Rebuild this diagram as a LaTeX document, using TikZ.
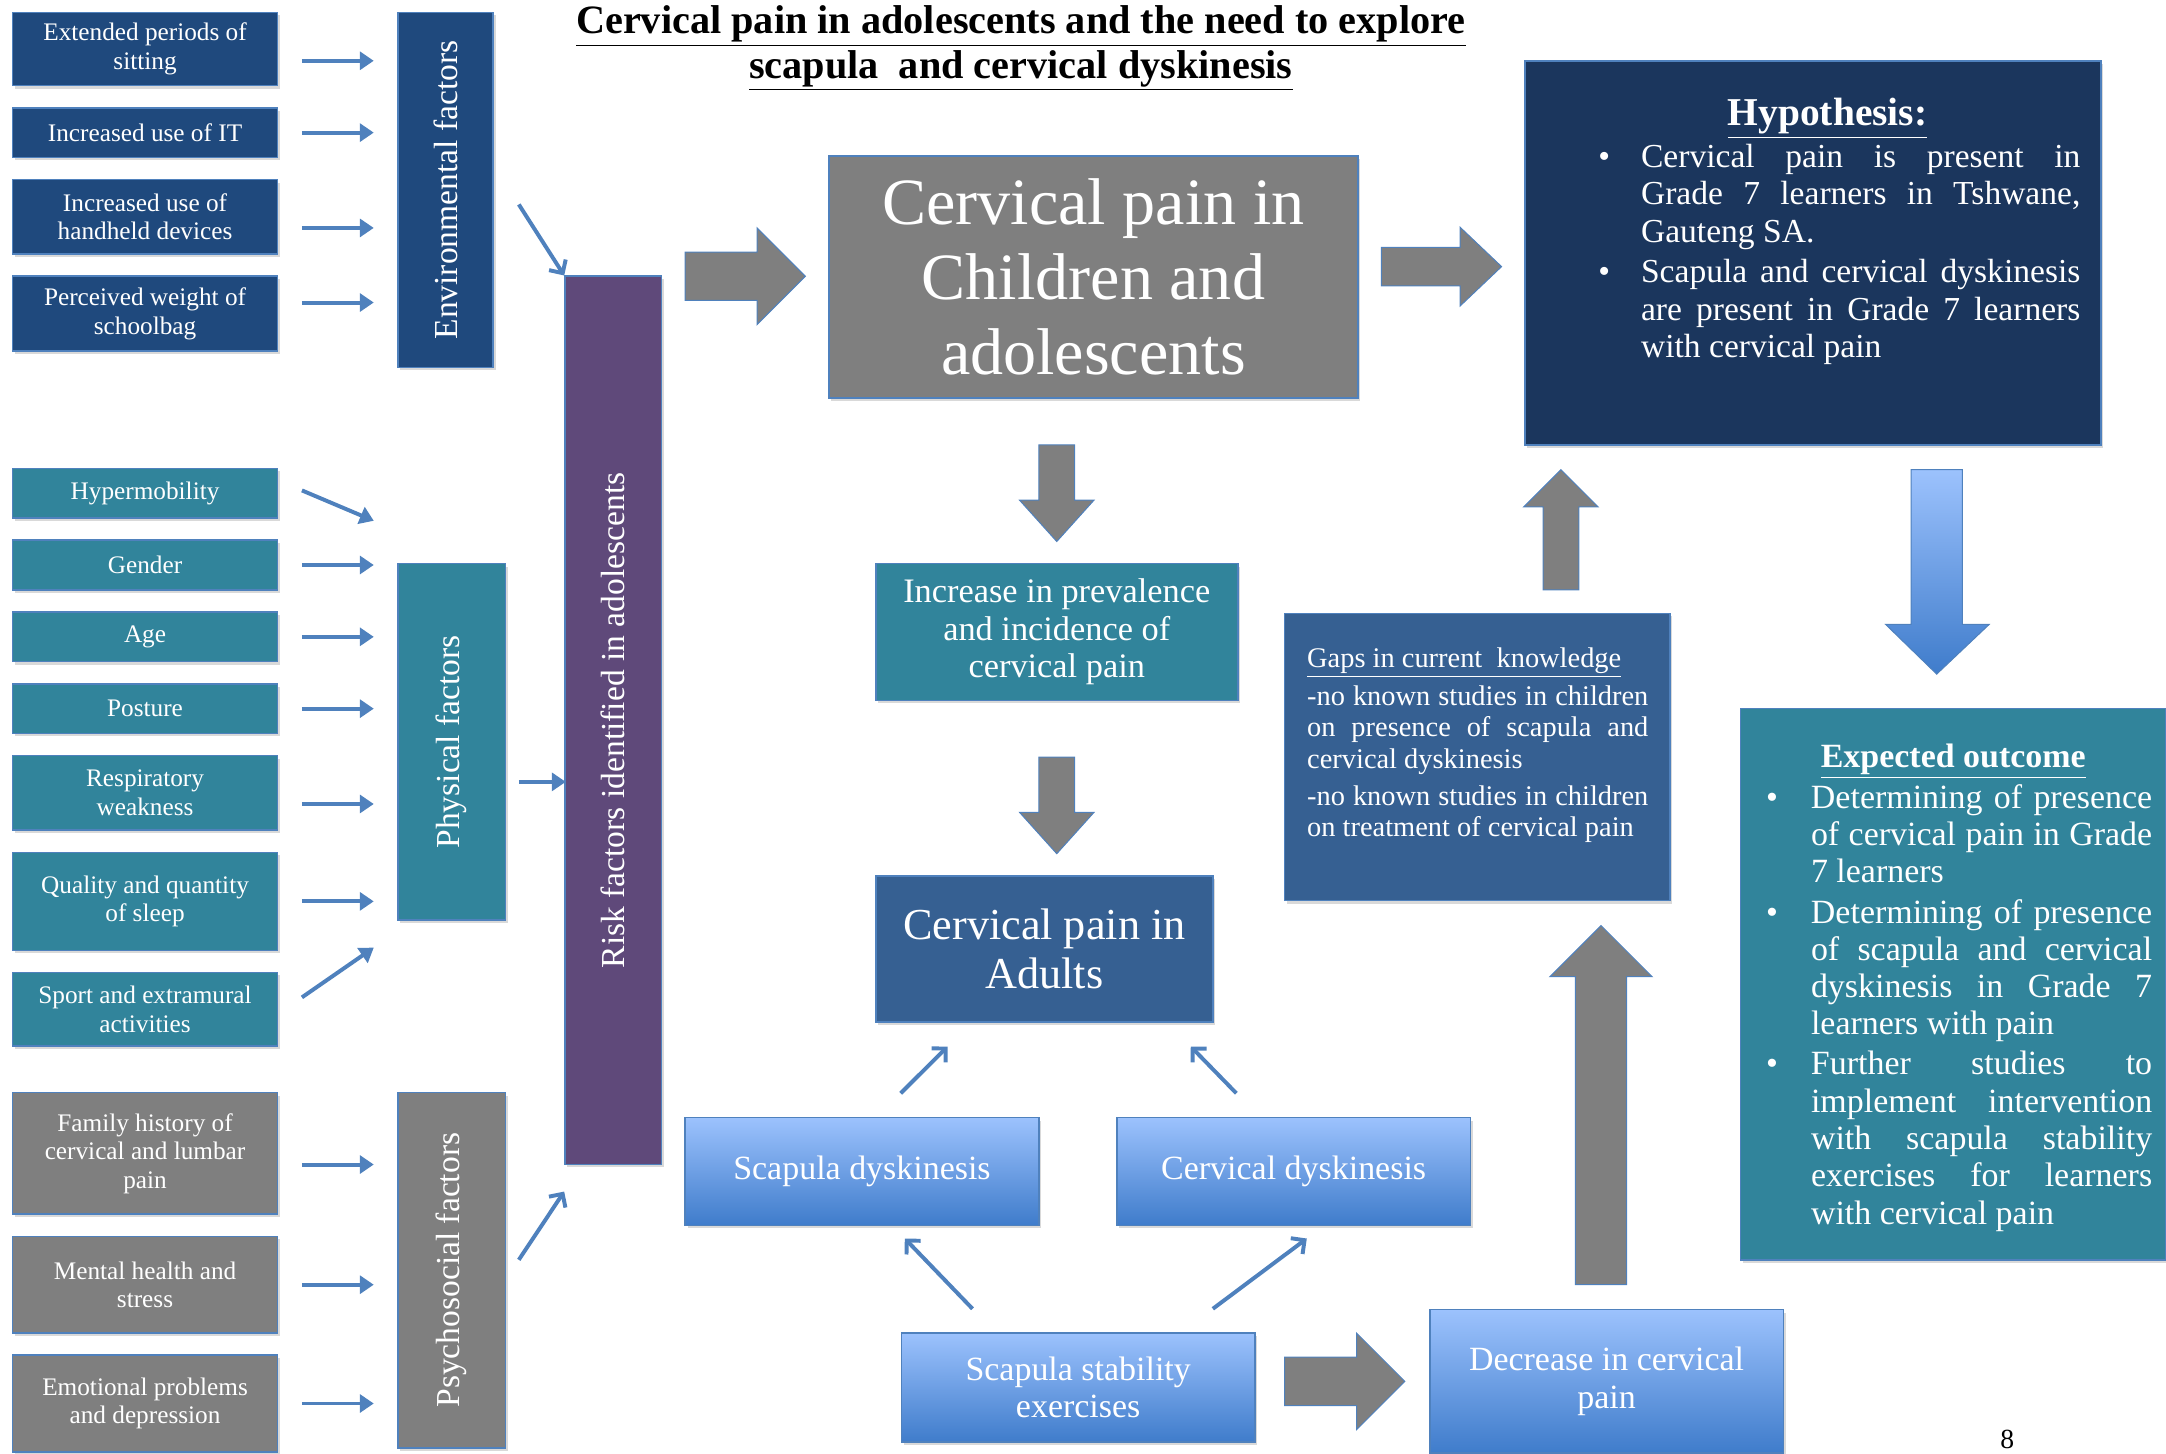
\documentclass[tikz,border=0pt]{standalone}
\usepackage{fontspec}
\setmainfont{Liberation Serif}
\usetikzlibrary{arrows.meta, positioning, calc, shadows}
\definecolor{envblue}{HTML}{1F497D}
\definecolor{physteal}{HTML}{31849B}
\definecolor{psygray}{HTML}{7F7F7F}
\definecolor{riskpurple}{HTML}{5F497A}
\definecolor{hypnavy}{HTML}{1B365D}
\definecolor{midblue}{HTML}{366092}
\definecolor{lineblue}{HTML}{4F81BD}
\definecolor{gradtop}{HTML}{9CC2FD}
\definecolor{gradbot}{HTML}{3F7CCB}
\hyphenpenalty=10000
\exhyphenpenalty=10000
\tolerance=9999
\tikzset{
    box/.style={draw=lineblue, line width=0.8pt, text=white, align=center, inner sep=2pt, drop shadow={shadow xshift=1.2pt, shadow yshift=-1.5pt, opacity=0.3}},
    envbox/.style={box, fill=envblue, minimum width=134.4pt, font=\fontsize{12.8}{14.5}\selectfont},
    physbox/.style={envbox, fill=physteal},
    psybox/.style={envbox, fill=psygray},
    bar/.style={box, font=\fontsize{17}{19}\selectfont},
    gradbox/.style={box, top color=gradtop, bottom color=gradbot, minimum width=179.2pt, font=\fontsize{17.2}{19}\selectfont},
    arrow/.style={-{Triangle[length=7pt,width=9pt]}, line width=2pt, lineblue},
    barb/.style={-{Straight Barb[length=5pt,width=10pt]}, line width=2pt, lineblue},
    fatarrow/.style={fill=psygray, draw=lineblue, line width=0.5pt}
}
% tail x,y / angle / length / shaft half width / head half width / head length
\newcommand{\blockarrow}[6]{%
    \filldraw[fatarrow, shift={(#1)}, rotate=#2] (0,-#4) -- ({#3-#6},-#4) -- ({#3-#6},-#5) -- (#3,0) -- ({#3-#6},#5) -- ({#3-#6},#4) -- (0,#4) -- cycle;}
\newcommand{\bulletline}[3]{\par\noindent\hangindent=#2\hangafter=1\makebox[#2][l]{\hspace{#1}\textbullet}#3\par}

\begin{document}
\begin{tikzpicture}[x=0.7pt, y=-0.7pt, node distance=10.4pt]
    \useasboundingbox (0,0) rectangle (1568,1052);

    % title
    \node[font=\bfseries\fontsize{20.4}{22.4}\selectfont, align=center] (title) at (739,35) {\underline{Cervical pain in adolescents and the need to explore}\\\underline{scapula\ \ and cervical dyskinesis}};

    % environmental factors
    \node[envbox, minimum height=37.1pt] (e1) at (105,35.5) {Extended periods of\\sitting};
    \node[envbox, minimum height=25.2pt, below=of e1] (e2) {Increased use of IT};
    \node[envbox, minimum height=37.8pt, below=of e2] (e3) {Increased use of\\handheld devices};
    \node[envbox, minimum height=37.8pt, below=of e3] (e4) {Perceived weight of\\schoolbag};
    \node[bar, fill=envblue, minimum width=48.3pt, minimum height=179.9pt] (envbar) at (322.5,137.5) {\rotatebox{90}{Environmental factors}};

    % physical factors
    \node[physbox, minimum height=25.2pt] (p1) at (105,357) {Hypermobility};
    \node[physbox, minimum height=25.2pt, below=of p1] (p2) {Gender};
    \node[physbox, minimum height=25.2pt, below=of p2] (p3) {Age};
    \node[physbox, minimum height=25.2pt, below=of p3] (p4) {Posture};
    \node[physbox, minimum height=37.8pt, below=of p4] (p5) {Respiratory\\weakness};
    \node[physbox, minimum height=49.7pt, below=of p5] (p6) {Quality and quantity\\of sleep};
    \node[physbox, minimum height=37.1pt, below=of p6] (p7) {Sport and extramural\\activities};
    \node[bar, fill=physteal, minimum width=54.6pt, minimum height=180.6pt] (physbar) at (327,537) {\rotatebox{90}{Physical factors}};

    % psychosocial factors
    \node[psybox, minimum height=61.6pt] (s1) at (105,835) {Family history of\\cervical and lumbar\\pain};
    \node[psybox, minimum height=49pt, below=of s1] (s2) {Mental health and\\stress};
    \node[psybox, minimum height=49pt, below=of s2] (s3) {Emotional problems\\and depression};
    \node[bar, fill=psygray, minimum width=54.6pt, minimum height=179.9pt] (psybar) at (327,919.5) {\rotatebox{90}{Psychosocial factors}};

    \node[bar, fill=riskpurple, minimum width=49pt, minimum height=450.1pt] (risk) at (444,521.5) {\rotatebox{90}{Risk factors identified in adolescents}};

    % middle and right
    \node[box, fill=psygray, minimum width=268.1pt, minimum height=122.5pt, font=\fontsize{33.5}{38}\selectfont] (cpchild) at (791.5,200.5) {Cervical pain in\\Children and\\adolescents};
    \node[box, fill=physteal, minimum width=183.4pt, minimum height=69.3pt, font=\fontsize{17.4}{19}\selectfont] (incr) at (765,457.5) {Increase in prevalence\\and incidence of\\cervical pain};
    \node[box, fill=midblue, minimum width=170.8pt, minimum height=74.2pt, font=\fontsize{22.4}{25}\selectfont] (adults) at (756,687) {Cervical pain in\\Adults};

    \node[box, fill=hypnavy, minimum width=291.9pt, minimum height=194.6pt] (hyp) at (1312.5,183) {};
    \node[anchor=north, inner sep=0pt, text=white, text width=256.2pt, align=justify, font=\fontsize{17}{19}\selectfont] (hyptext) at (1323,71) {%
        {\centering\fontsize{20}{21}\selectfont\bfseries\underline{Hypothesis:}\par}\vspace{2pt}
        \bulletline{12pt}{33.6pt}{Cervical pain is present in\linebreak Grade 7 learners in Tshwane,\linebreak Gauteng SA.}\vspace{1.4pt}
        \bulletline{12pt}{33.6pt}{Scapula and cervical dyskinesis\linebreak are present in Grade 7 learners\linebreak with cervical pain}};

    \node[box, fill=midblue, minimum width=195.3pt, minimum height=145.6pt] (gaps) at (1069.5,548) {};
    \node[anchor=north west, inner sep=0pt, text=white, text width=172.9pt, align=justify, font=\fontsize{14.4}{16}\selectfont] (gapstext) at (946,469) {%
        \underline{Gaps in current\ \ knowledge}\par\vspace{2.8pt}
        -no known studies in children\linebreak on presence of scapula and\linebreak cervical dyskinesis\par\vspace{2.8pt}
        -no known studies in children\linebreak on treatment of cervical pain};

    \node[box, fill=physteal, minimum width=215.6pt, minimum height=279.3pt] (expect) at (1414,712.5) {};
    \node[anchor=north, inner sep=0pt, text=white, text width=201.6pt, align=justify, font=\fontsize{17.2}{18.9}\selectfont] (expecttext) at (1414,538) {%
        {\centering\bfseries\underline{Expected outcome}\par}\vspace{2pt}
        \bulletline{6pt}{28.7pt}{Determining of presence\linebreak of cervical pain in Grade\linebreak 7 learners}\vspace{1.4pt}
        \bulletline{6pt}{28.7pt}{Determining of presence\linebreak of scapula and cervical\linebreak dyskinesis in Grade 7\linebreak learners with pain}\vspace{1.4pt}
        \bulletline{6pt}{28.7pt}{Further studies to\linebreak implement intervention\linebreak with scapula stability\linebreak exercises for learners\linebreak with cervical pain}};

    % bottom
    \node[gradbox, minimum height=54.6pt] (scapdys) at (624,848) {Scapula dyskinesis};
    \node[gradbox, minimum height=54.6pt] (cervdys) at (936.5,848) {Cervical dyskinesis};
    \node[gradbox, minimum height=55.3pt] (stab) at (780.5,1004.5) {Scapula stability\\exercises};
    \node[gradbox, minimum height=72.8pt] (decr) at (1163,1000) {Decrease in cervical\\pain};

    \node[font=\fontsize{14}{16}\selectfont] (pagenum) at (1453,1042) {8};

    % thin arrows
    \draw[arrow] ($(e1.east)+(17,8.5)$) -- ++(52,0);
    \draw[arrow] ($(e2.east)+(17,0)$) -- ++(52,0);
    \draw[arrow] ($(e3.east)+(17,8)$) -- ++(52,0);
    \draw[arrow] ($(e4.east)+(17,-8)$) -- ++(52,0);
    \draw[arrow] ($(p1.east)+(17,-2)$) -- ++(52,22);
    \draw[arrow] ($(p2.east)+(17,0)$) -- ++(52,0);
    \draw[arrow] ($(p3.east)+(17,0)$) -- ++(52,0);
    \draw[arrow] ($(p4.east)+(17,0)$) -- ++(52,0);
    \draw[arrow] ($(p5.east)+(17,8)$) -- ++(52,0);
    \draw[arrow] ($(p6.east)+(17,0)$) -- ++(52,0);
    \draw[arrow] ($(p7.east)+(17,-8.5)$) -- ++(52,-36);
    \draw[arrow] ($(s1.east)+(17,8)$) -- ++(52,0);
    \draw[arrow] ($(s2.east)+(17,0)$) -- ++(52,0);
    \draw[arrow] ($(s3.east)+(17,0)$) -- ++(52,0);
    \draw[barb] ($(envbar.east)+(18,10.5)$) -- (risk.north west);
    \draw[arrow] ($(physbar.east)+(9,29)$) -- ++(34,0);
    \draw[barb] ($(psybar.east)+(9,-7.5)$) -- ($(risk.south west)+(0,19)$);
    \draw[barb] ($(scapdys.north)+(28,-17)$) -- ($(adults.south)+(-70,17)$);
    \draw[barb] ($(cervdys.north)+(-41.5,-17)$) -- ($(adults.south)+(106,17)$);
    \draw[barb] ($(stab.north)+(-76.5,-17)$) -- ($(scapdys.south)+(31,9)$);
    \draw[barb] ($(stab.north)+(97.5,-17)$) -- ($(cervdys.south)+(9.5,9)$);

    % block arrows
    \blockarrow{496,200}{0}{87}{17.5}{35}{35}
    \blockarrow{1000,193}{0}{87}{14}{28.5}{30}
    \blockarrow{765,322}{-90}{70}{13}{27}{30}
    \blockarrow{765,548}{-90}{70}{13}{27}{30}
    \blockarrow{1130,427}{90}{87}{13}{27}{27}
    \blockarrow{1159,930}{90}{260}{18.5}{37}{37}
    \blockarrow{930,1000}{0}{87}{17.5}{35}{35}
    \shade[top color=gradtop, bottom color=gradbot, draw=lineblue, line width=0.5pt] (1383.5,340) -- (1420.5,340) -- (1420.5,452) -- (1440,452) -- (1402,488) -- (1365,452) -- (1383.5,452) -- cycle;
\end{tikzpicture}
\end{document}
